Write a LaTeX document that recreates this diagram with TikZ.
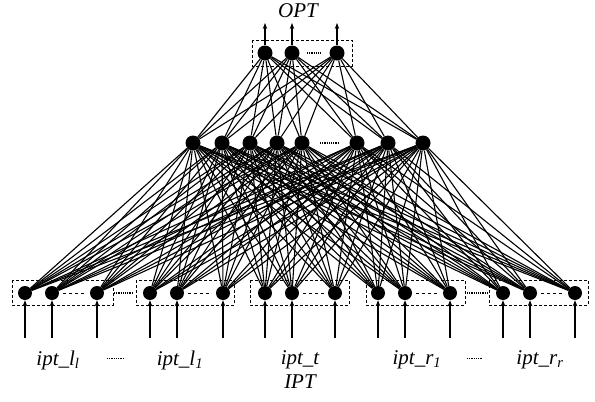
\documentclass[tikz,border=0pt]{standalone}
\usepackage{fontspec}
\setmainfont{Liberation Serif}
\usetikzlibrary{arrows.meta}
\begin{document}
\begin{tikzpicture}[x=1pt,y=-1pt,
  neuron/.style={circle,fill=black,inner sep=0pt,minimum size=14pt},
  hneuron/.style={circle,fill=black,inner sep=0pt,minimum size=15pt},
  grp/.style={draw,densely dashed,line width=0.8pt},
  link/.style={line width=1.1pt},
  inarrow/.style={line width=1.2pt,-{Stealth[length=6pt,width=4.5pt]}},
  lbl/.style={font=\fontsize{21}{23}\selectfont\itshape,inner sep=0pt},
  gap/.style={densely dotted,line width=1.2pt},
  gapdash/.style={dashed,line width=0.8pt}]
\useasboundingbox (0,0) rectangle (595,402);
% group boxes
\draw[grp] (12,280) rectangle (113,305);
\draw[grp] (136,280) rectangle (234,305);
\draw[grp] (250,280) rectangle (349,305);
\draw[grp] (366,280) rectangle (465,305);
\draw[grp] (489,280) rectangle (588,305);
\draw[grp] (252,40) rectangle (352,66);
% input nodes
\foreach \n/\x in {a1/25,a2/52,a3/97,b1/150,b2/177,b3/223,c1/265,c2/292,c3/335,d1/378,d2/405,d3/450,e1/503,e2/530,e3/575}
  \node[neuron] (\n) at (\x,293) {};
% hidden nodes
\foreach \n/\x in {h1/193,h2/222,h3/250,h4/277,h5/302,h6/357,h7/388,h8/423}
  \node[hneuron] (\n) at (\x,143) {};
% output nodes
\foreach \n/\x in {o1/265,o2/292,o3/337}
  \node[hneuron] (\n) at (\x,53) {};
% connections input -> hidden
\foreach \i in {a1,a2,a3,b1,b2,b3,c1,c2,c3,d1,d2,d3,e1,e2,e3}
  \foreach \h in {h1,h2,h3,h4,h5,h6,h7,h8}
    \draw[link] (\i) -- (\h);
% hidden -> output
\foreach \h in {h1,h2,h3,h4,h5,h6,h7,h8}
  \foreach \o in {o1,o2,o3}
    \draw[link] (\h) -- (\o);
% dashes inside groups
\foreach \u/\v in {a2/a3,b2/b3,c2/c3,d2/d3,e2/e3}
  \draw[gapdash] ([xshift=4pt]\u.east) -- ([xshift=-4pt]\v.west);
% dots between groups and in layers
\draw[gap] (114,293) -- (133,293);
\draw[gap] (467,293) -- (487,293);
\draw[gap] (307,53) -- (322,53);
\draw[gap] (320,143) -- (338,143);
% input arrows
\foreach \n in {a1,a2,a3,b1,b2,b3,c1,c2,c3,d1,d2,d3,e1,e2,e3}{
  \coordinate (s\n) at ([yshift=-45pt]\n.center);
  \draw[inarrow] (s\n) -- (\n.south);
}
% output arrows
\foreach \n in {o1,o2,o3}{
  \coordinate (t\n) at ([yshift=30pt]\n.center);
  \draw[inarrow] (\n.north) -- (t\n);
}
% labels
\node[lbl] (opt) at (298,11) {OPT};
\node[lbl] (l1) at (58,360) {ipt\_l\textsubscript{\itshape l}};
\node[lbl] (l2) at (180,360) {ipt\_l\textsubscript{\itshape 1}};
\node[lbl] (l3) at (300,360) {ipt\_t};
\node[lbl] (l4) at (417,360) {ipt\_r\textsubscript{\itshape 1}};
\node[lbl] (l5) at (540,360) {ipt\_r\textsubscript{\itshape r}};
\node[lbl] (ipt) at (300,382) {IPT};
\draw[gap,line width=0.8pt] (107,358) -- (125,358);
\draw[gap,line width=0.8pt] (467,358) -- (483,358);
\end{tikzpicture}
\end{document}
